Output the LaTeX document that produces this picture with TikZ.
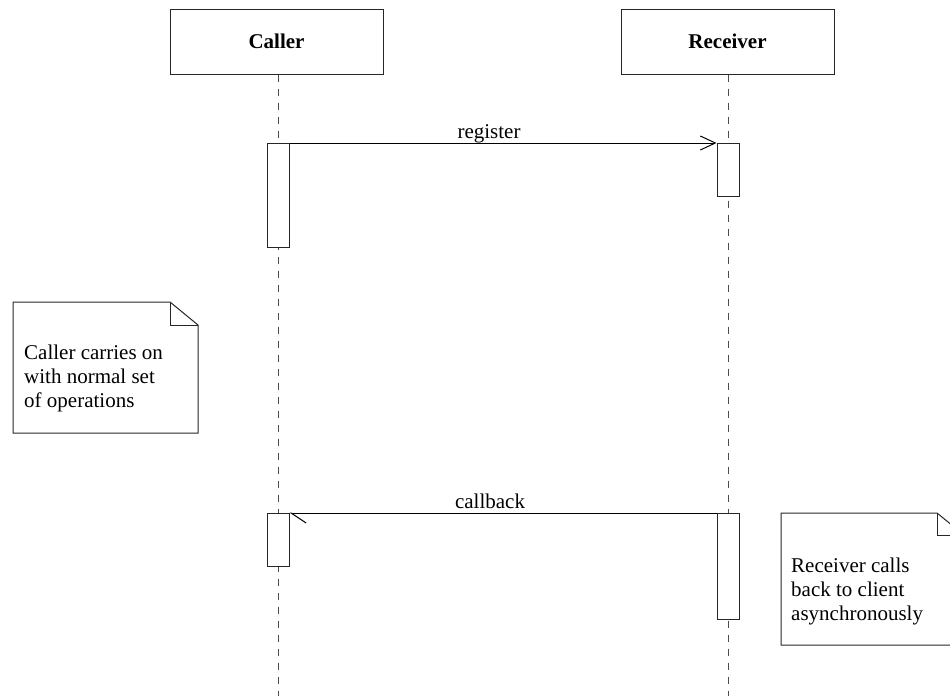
\documentclass[tikz,border=0pt]{standalone}
\usepackage{fontspec}
\setmainfont{Liberation Serif}
\usetikzlibrary{arrows.meta}
\begin{document}
\begin{tikzpicture}[x=1pt,y=-1pt,
  every node/.style={font=\fontsize{21}{24}\selectfont},
  ink/.style={draw=black!85,line width=1pt},
  actor/.style={ink,rectangle,minimum width=213pt,minimum height=65pt,inner sep=0pt,font=\fontsize{21}{24}\selectfont\bfseries},
  lifeline/.style={draw=black!70,line width=1pt,dash pattern=on 7pt off 7pt},
  activation/.style={ink,fill=white,rectangle,minimum width=22pt,inner sep=0pt,anchor=north},
  msg/.style={draw=black,line width=1pt},
  msglabel/.style={anchor=base,inner sep=0pt},
  notebox/.style={ink,line join=miter},
  notetext/.style={align=left,anchor=north west,inner sep=0pt}
]
\useasboundingbox (0,0) rectangle (950,696);
\clip (0,0) rectangle (950,696);

% participants
\node[actor] (caller) at (276.5,41.5) {Caller};
\node[actor] (receiver) at (727.5,41.5) {Receiver};

% lifelines
\coordinate (callerEnd) at (278,696);
\coordinate (receiverEnd) at (728,696);
\draw[lifeline] (caller.south -| callerEnd) -- (callerEnd);
\draw[lifeline] (receiver.south -| receiverEnd) -- (receiverEnd);

% activation bars
\node[activation,minimum height=104pt] (callerAct1) at (278,143) {};
\node[activation,minimum height=53pt] (receiverAct1) at (728,143) {};
\node[activation,minimum height=53pt] (callerAct2) at (278,513) {};
\node[activation,minimum height=106pt] (receiverAct2) at (728,513) {};

% messages
\draw[msg,-{Straight Barb[length=15pt,width=14pt,line width=1pt]}]
  (callerAct1.north east) -- (receiverAct1.north west);
\node[msglabel] (registerLbl) at (489,138.5) {register};
\draw[msg,-{Straight Barb[left,length=15pt,width=20pt,line width=1pt]}]
  (receiverAct2.north west) -- (callerAct2.north east);
\node[msglabel] (callbackLbl) at (490,508.5) {callback};

% note: caller side
\draw[notebox] (13,302) -- (170,302) -- (198,325) -- (198,433) -- (13,433) -- cycle;
\draw[notebox] (170,302) -- (170,325) -- (198,325);
\node[notetext] (callerNote) at (24,344.5) {Caller carries on\\with normal set\\of operations};

% note: receiver side
\draw[notebox] (781,513) -- (937,513) -- (964,535) -- (964,645) -- (781,645) -- cycle;
\draw[notebox] (937,513) -- (937,535) -- (964,535);
\node[notetext] (receiverNote) at (791,557.7) {Receiver calls\\back to client\\asynchronously};
\end{tikzpicture}
\end{document}
